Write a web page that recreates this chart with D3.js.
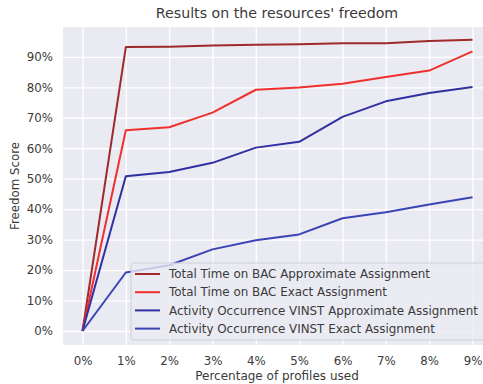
<!DOCTYPE html>
<html><head><meta charset="utf-8">
<script src="https://cdn.jsdelivr.net/npm/d3@7"></script>
<style>body{margin:0;background:#fff}svg{display:block}text{font-family:"DejaVu Sans",sans-serif;fill:#3a3a3a}</style>
</head><body>
<svg id="c" width="483" height="384"></svg>
<script>
const xValues = [0,1,2,3,4,5,6,7,8,9];
const xTickLabels = ["0%","1%","2%","3%","4%","5%","6%","7%","8%","9%"];
const yTicks = [0,10,20,30,40,50,60,70,80,90];
const seriesNames = [
  "Total Time on BAC Approximate Assignment",
  "Total Time on BAC Exact Assignment",
  "Activity Occurrence VINST Approximate Assignment",
  "Activity Occurrence VINST Exact Assignment"
];
const bacApprox = [0,93.2,93.3,93.7,94.0,94.1,94.5,94.5,95.2,95.6];
const bacExact = [0,65.9,66.9,71.7,79.2,79.9,81.2,83.4,85.5,91.8];
const vinstApprox = [0,50.8,52.2,55.2,60.2,62.1,70.3,75.4,78.1,80.1];
const vinstExact = [0,19.2,21.6,26.8,29.8,31.7,37.0,39.0,41.5,43.9];
const colors = ["#9e2a2b","#f0302f","#3030a0","#3b44b4"];
const allSeries = [bacApprox,bacExact,vinstApprox,vinstExact];

const svg = d3.select("#c");
const L=63, R=492, T=27, B=345;
const x = d3.scaleLinear().domain([-0.45,9.45]).range([L,R]);
const y = d3.scaleLinear().domain([-4.6,99.8]).range([B,T]);

svg.append("rect").attr("x",L).attr("y",T).attr("width",R-L).attr("height",B-T).attr("fill","#eaeaf2");

const gx = svg.append("g").attr("transform",`translate(0,${B})`)
  .call(d3.axisBottom(x).tickValues(xValues).tickFormat((d,i)=>xTickLabels[i]).tickSize(-(B-T)).tickPadding(12));
const gy = svg.append("g").attr("transform",`translate(${L},0)`)
  .call(d3.axisLeft(y).tickValues(yTicks).tickFormat(d=>d+"%").tickSize(-(R-L)).tickPadding(10));
[gx,gy].forEach(g=>{
  g.select(".domain").remove();
  g.selectAll(".tick line").attr("stroke","#fff").attr("stroke-width",1.3);
  g.selectAll(".tick text").style("font-size","11.8px").attr("fill","#3a3a3a");
});

const line = d3.line().x((d,i)=>x(xValues[i])).y(d=>y(d));
allSeries.forEach((s,k)=>{
  svg.append("path").datum(s).attr("d",line).attr("fill","none")
    .attr("stroke",colors[k]).attr("stroke-width",2).attr("stroke-linejoin","round");
});

// legend
const lg = svg.append("g");
lg.append("rect").attr("x",131).attr("y",263).attr("width",365).attr("height",77).attr("rx",3)
  .attr("fill","#eaeaf2").attr("fill-opacity",0.8).attr("stroke","#d0d0d8").attr("stroke-width",1);
seriesNames.forEach((n,k)=>{
  const yy = 274 + k*18.2;
  lg.append("line").attr("x1",135).attr("x2",160).attr("y1",yy).attr("y2",yy).attr("stroke",colors[k]).attr("stroke-width",2);
  lg.append("text").attr("x",169).attr("y",yy).attr("dy","0.35em").style("font-size","11.9px").text(n);
});

svg.append("text").attr("x",277).attr("y",13).attr("text-anchor","middle").attr("dy","0.35em").style("font-size","14.2px").text("Results on the resources' freedom");
svg.append("text").attr("x",277).attr("y",376).attr("text-anchor","middle").attr("dy","0.35em").style("font-size","12px").text("Percentage of profiles used");
svg.append("text").attr("transform","translate(15,186) rotate(-90)").attr("text-anchor","middle").attr("dy","0.35em").style("font-size","11.8px").text("Freedom Score");
</script>
</body></html>
